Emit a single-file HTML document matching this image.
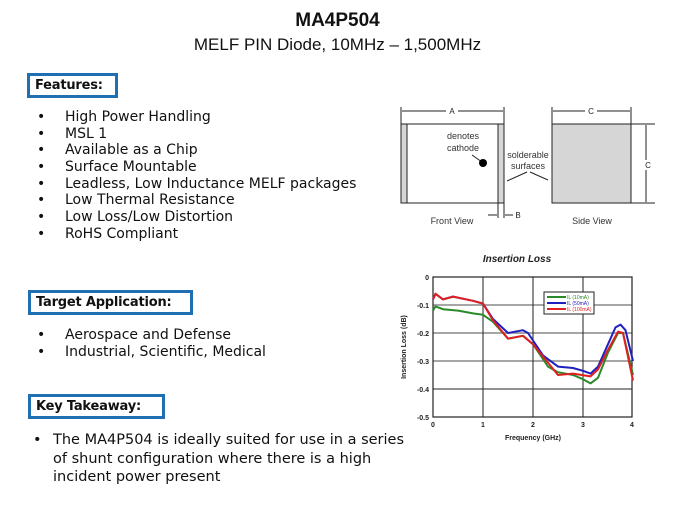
<!DOCTYPE html>
<html><head><meta charset="utf-8"><style>
body{margin:0;width:675px;height:506px;background:#fff;position:relative;overflow:hidden;font-family:"DejaVu Sans","Liberation Sans",sans-serif;color:#111}
.a{position:absolute;white-space:nowrap}
.box{position:absolute;border:3px solid #1f6fb2;font-weight:bold;font-size:13px;letter-spacing:-0.2px;padding:0 5px;box-sizing:border-box;line-height:19px;white-space:nowrap;overflow:hidden}
.li{position:absolute;font-size:14px;line-height:17px;white-space:nowrap}
.li b{position:absolute;left:-28px;font-weight:normal}
</style></head><body>
<div class="a" style="left:0;width:675px;text-align:center;top:10px;font-size:19px;font-weight:bold;font-family:'Liberation Sans',sans-serif">MA4P504</div>
<div class="a" style="left:0;width:675px;text-align:center;top:35px;font-size:17px;font-family:'Liberation Sans',sans-serif">MELF PIN Diode, 10MHz – 1,500MHz</div>

<div class="box" style="left:27px;top:73px;width:91px;height:25px">Features:</div>
<div class="li" style="left:65px;top:109px"><b>•</b>High Power Handling</div>
<div class="li" style="left:65px;top:126px"><b>•</b>MSL 1</div>
<div class="li" style="left:65px;top:142px"><b>•</b>Available as a Chip</div>
<div class="li" style="left:65px;top:159px"><b>•</b>Surface Mountable</div>
<div class="li" style="left:65px;top:176px"><b>•</b>Leadless, Low Inductance MELF packages</div>
<div class="li" style="left:65px;top:192px"><b>•</b>Low Thermal Resistance</div>
<div class="li" style="left:65px;top:209px"><b>•</b>Low Loss/Low Distortion</div>
<div class="li" style="left:65px;top:226px"><b>•</b>RoHS Compliant</div>

<div class="box" style="left:28px;top:290px;width:165px;height:25px">Target Application:</div>
<div class="li" style="left:65px;top:327px"><b>•</b>Aerospace and Defense</div>
<div class="li" style="left:65px;top:344px"><b>•</b>Industrial, Scientific, Medical</div>

<div class="box" style="left:28px;top:394px;width:137px;height:25px">Key Takeaway:</div>
<div class="li" style="left:53px;top:431px;line-height:18.5px;font-size:14.5px"><b style="left:-20px">•</b>The MA4P504 is ideally suited for use in a series<br>of shunt configuration where there is a high<br>incident power present</div>

<svg class="a" style="left:0;top:0" width="675" height="506" font-family="Liberation Sans, sans-serif">
<g stroke="#222" stroke-width="1" fill="none">
<rect x="401" y="124" width="103" height="79" fill="#fff"/>
<rect x="401" y="124" width="6" height="79" fill="#d6d6d6"/>
<rect x="498" y="124" width="6" height="79" fill="#d6d6d6"/>
<line x1="401" y1="107" x2="401" y2="124"/><line x1="504" y1="107" x2="504" y2="124"/>
<line x1="402" y1="111" x2="446" y2="111"/><line x1="458" y1="111" x2="503" y2="111"/>
<rect x="552" y="124" width="79" height="79" fill="#d6d6d6"/>
<line x1="552" y1="107" x2="552" y2="124"/><line x1="631" y1="107" x2="631" y2="124"/>
<line x1="553" y1="111" x2="585" y2="111"/><line x1="597" y1="111" x2="630" y2="111"/>
<line x1="631" y1="124" x2="655" y2="124"/><line x1="631" y1="203" x2="655" y2="203"/>
<line x1="646" y1="125" x2="646" y2="160"/><line x1="646" y1="170" x2="646" y2="202"/>
<line x1="498" y1="203" x2="498" y2="218"/><line x1="504" y1="203" x2="504" y2="218"/>
<line x1="488" y1="215" x2="497" y2="215"/><line x1="505" y1="215" x2="513" y2="215"/>
<line x1="472" y1="155" x2="482" y2="162"/>
<line x1="527" y1="172" x2="507" y2="181"/><line x1="530" y1="172" x2="548" y2="180"/>
</g>
<circle cx="483" cy="163" r="4" fill="#000"/>
<g fill="#222" font-size="8" text-anchor="middle">
<text x="452" y="114">A</text><text x="591" y="114">C</text><text x="648" y="168">C</text><text x="518" y="218">B</text>
</g>
<g fill="#333" font-size="9" text-anchor="middle">
<text x="463" y="139">denotes</text><text x="463" y="151">cathode</text>
<text x="528" y="158">solderable</text><text x="528" y="169">surfaces</text>
<text x="452" y="224">Front View</text><text x="592" y="224">Side View</text>
</g>
<text x="517" y="262" font-size="10" font-weight="bold" font-style="italic" text-anchor="middle" fill="#222">Insertion Loss</text>
<g stroke="#888" stroke-width="1.5"><line x1="433" y1="305" x2="632" y2="305"/><line x1="433" y1="333" x2="632" y2="333"/><line x1="433" y1="361" x2="632" y2="361"/></g>
<g stroke="#222" stroke-width="1"><line x1="433" y1="389" x2="632" y2="389"/><line x1="483" y1="277" x2="483" y2="417"/><line x1="533" y1="277" x2="533" y2="417"/><line x1="583" y1="277" x2="583" y2="417"/></g>
<rect x="433" y="277" width="199" height="140" fill="none" stroke="#222" stroke-width="1.2"/>
<g font-size="7" fill="#222" text-anchor="end" font-weight="bold">
<text x="429" y="280">0</text><text x="429" y="308">-0.1</text><text x="429" y="336">-0.2</text><text x="429" y="364">-0.3</text><text x="429" y="392">-0.4</text><text x="429" y="420">-0.5</text>
</g>
<g font-size="7" fill="#222" text-anchor="middle" font-weight="bold">
<text x="433" y="427">0</text><text x="483" y="427">1</text><text x="533" y="427">2</text><text x="583" y="427">3</text><text x="632" y="427">4</text>
<text x="533" y="440">Frequency (GHz)</text>
<text transform="translate(406,347) rotate(-90)">Insertion Loss (dB)</text>
</g>
<g transform="translate(433,277) scale(50,280)" fill="none" stroke-width="2" stroke-linejoin="round">
<polyline vector-effect="non-scaling-stroke" stroke="#2a8a2a" points="0,0.12 0.05,0.105 0.2,0.115 0.5,0.12 0.8,0.13 1,0.135 1.2,0.16 1.5,0.22 1.8,0.21 2,0.24 2.3,0.32 2.5,0.34 2.8,0.35 3,0.365 3.15,0.38 3.3,0.36 3.5,0.27 3.7,0.2 3.8,0.2 4,0.35"/>
<polyline vector-effect="non-scaling-stroke" stroke="#2020c0" points="0,0.08 0.05,0.06 0.2,0.08 0.4,0.07 0.8,0.085 1,0.095 1.2,0.15 1.5,0.2 1.8,0.19 1.9,0.2 2.2,0.28 2.5,0.32 2.8,0.325 3,0.335 3.15,0.345 3.3,0.32 3.5,0.24 3.65,0.18 3.75,0.17 3.85,0.19 4,0.3"/>
<polyline vector-effect="non-scaling-stroke" stroke="#e02020" points="0,0.08 0.05,0.06 0.2,0.08 0.4,0.07 0.8,0.085 1,0.095 1.2,0.155 1.5,0.22 1.8,0.21 2,0.24 2.5,0.35 2.8,0.345 3.15,0.355 3.3,0.33 3.5,0.26 3.7,0.195 3.8,0.2 4,0.37"/>
</g>
<rect x="544" y="292" width="50" height="22" fill="#fff" stroke="#222" stroke-width="1"/>
<g stroke-width="2"><line x1="547" y1="297" x2="566" y2="297" stroke="#2a8a2a"/><line x1="547" y1="303" x2="566" y2="303" stroke="#2020c0"/><line x1="547" y1="309" x2="566" y2="309" stroke="#e02020"/></g>
<g font-size="5"><text x="567" y="299" fill="#2a8a2a">IL (10mA)</text><text x="567" y="305" fill="#2020c0">IL (50mA)</text><text x="567" y="311" fill="#e02020">IL (100mA)</text></g>
</svg>
</body></html>
